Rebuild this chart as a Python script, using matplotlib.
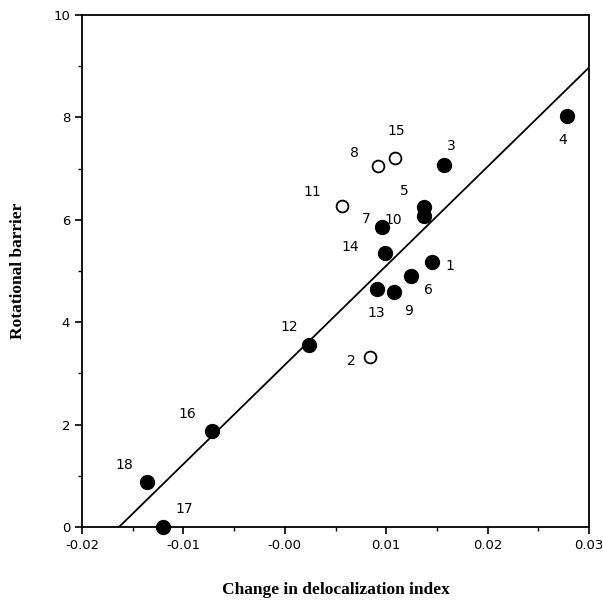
import numpy as np
import matplotlib
matplotlib.use("Agg")
import matplotlib.pyplot as plt
from matplotlib.ticker import MultipleLocator

# compound numbers, change in delocalization index, rotational barrier
labels = ["1", "2", "3", "4", "5", "6", "7", "8", "9", "10",
          "11", "12", "13", "14", "15", "16", "17", "18"]
dx = [0.0145, 0.0084, 0.0157, 0.0278, 0.0137, 0.0124, 0.0096, 0.0092, 0.0108, 0.0137,
      0.0056, 0.0024, 0.0091, 0.0099, 0.0109, -0.0072, -0.0120, -0.0136]
barrier = [5.18, 3.32, 7.07, 8.03, 6.25, 4.90, 5.86, 7.05, 4.59, 6.07,
           6.27, 3.55, 4.65, 5.35, 7.20, 1.87, 0.0, 0.88]
is_open = [False, True, False, False, False, False, False, True, False, False,
           True, False, False, False, True, False, False, False]

# label offsets in pixels (dx, dy up)
offs = {"1": (18, -4), "2": (-19, -4), "3": (7, 19), "4": (-4, -24), "5": (-19, 16),
        "6": (18, -14), "7": (-16, 8), "8": (-24, 13), "9": (14, -19), "10": (-31, -4),
        "11": (-29, 14), "12": (-20, 18), "13": (-1, -24), "14": (-35, 6), "15": (1, 27),
        "16": (-25, 17), "17": (21, 18), "18": (-23, 17)}

# regression line
x0 = -0.01635
slope = 193.7

fig = plt.figure(figsize=(6.03, 6.02), dpi=100)
ax = fig.add_axes([0.136, 0.1246, 0.841, 0.8504])

xl = np.array([x0, 0.03])
ax.plot(xl, slope * (xl - x0), color="black", lw=1.3, zorder=1)

for lab, x, y, o in zip(labels, dx, barrier, is_open):
    if o:
        ax.plot(x, y, "o", ms=8.5, mfc="white", mec="black", mew=1.3, zorder=3, clip_on=False)
    else:
        ax.plot(x, y, "o", ms=10, mfc="black", mec="black", zorder=3, clip_on=False)
    ox, oy = offs[lab]
    ax.annotate(lab, (x, y), xytext=(ox * 0.72, oy * 0.72), textcoords="offset points",
                ha="center", va="center", fontsize=10, family="DejaVu Sans")

ax.set_xlim(-0.02, 0.03)
ax.set_ylim(0, 10)
ax.set_xticks([-0.02, -0.01, 0.0, 0.01, 0.02, 0.03])
ax.set_xticklabels(["-0.02", "-0.01", "-0.00", "0.01", "0.02", "0.03"])
ax.set_yticks([0, 2, 4, 6, 8, 10])
ax.xaxis.set_minor_locator(MultipleLocator(0.005))
ax.yaxis.set_minor_locator(MultipleLocator(1))
ax.tick_params(which="major", direction="out", length=5, width=1.2, labelsize=9.5)
ax.tick_params(which="minor", direction="out", length=3, width=1)
for s in ax.spines.values():
    s.set_linewidth(1.3)

ax.set_xlabel("Change in delocalization index", family="Liberation Serif",
              fontweight="bold", fontsize=12.5, labelpad=22)
ax.set_ylabel("Rotational barrier", family="Liberation Serif",
              fontweight="bold", fontsize=12.5, labelpad=20)

fig.savefig("out.png", dpi=100)
